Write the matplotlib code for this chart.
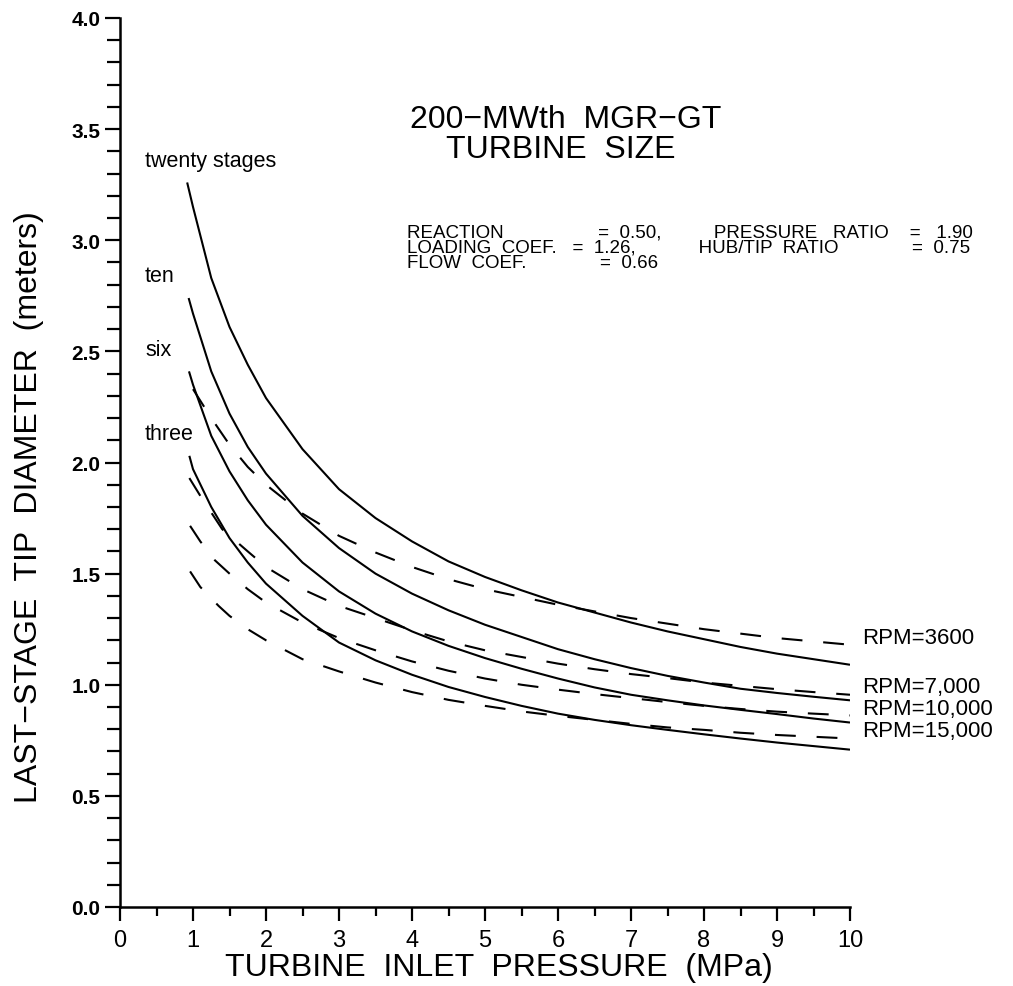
import matplotlib
matplotlib.use("Agg")
import matplotlib.pyplot as plt
from matplotlib.ticker import MultipleLocator

# ---- data -------------------------------------------------------------
# Solid curves: constant number of turbine stages
twenty_x = [0.92, 1.0, 1.25, 1.5, 1.75, 2.0, 2.5, 3.0, 3.5, 4.0, 4.5, 5.0,
            5.5, 6.0, 6.5, 7.0, 7.5, 8.0, 8.5, 9.0, 9.5, 10.0]
twenty_y = [3.26, 3.15, 2.83, 2.61, 2.44, 2.29, 2.06, 1.88, 1.75, 1.645, 1.555,
            1.485, 1.425, 1.37, 1.325, 1.28, 1.24, 1.205, 1.17, 1.14, 1.115, 1.09]

ten_x = [0.94, 1.0, 1.25, 1.5, 1.75, 2.0, 2.5, 3.0, 3.5, 4.0, 4.5, 5.0,
         5.5, 6.0, 6.5, 7.0, 7.5, 8.0, 8.5, 9.0, 9.5, 10.0]
ten_y = [2.74, 2.67, 2.41, 2.22, 2.07, 1.95, 1.76, 1.615, 1.50, 1.41, 1.335,
         1.27, 1.215, 1.16, 1.115, 1.075, 1.04, 1.01, 0.982, 0.963, 0.946, 0.93]

six_x = [0.945, 1.0, 1.25, 1.5, 1.75, 2.0, 2.5, 3.0, 3.5, 4.0, 4.5, 5.0,
         5.5, 6.0, 6.5, 7.0, 7.5, 8.0, 8.5, 9.0, 9.5, 10.0]
six_y = [2.41, 2.35, 2.12, 1.96, 1.83, 1.72, 1.55, 1.42, 1.32, 1.24, 1.175,
         1.12, 1.072, 1.028, 0.988, 0.955, 0.93, 0.907, 0.887, 0.868, 0.848, 0.83]

three_x = [0.95, 1.0, 1.25, 1.5, 1.75, 2.0, 2.5, 3.0, 3.5, 4.0, 4.5, 5.0,
           5.5, 6.0, 6.5, 7.0, 7.5, 8.0, 8.5, 9.0, 9.5, 10.0]
three_y = [2.03, 1.97, 1.80, 1.66, 1.55, 1.455, 1.31, 1.19, 1.11, 1.045, 0.99,
           0.945, 0.905, 0.87, 0.842, 0.818, 0.797, 0.777, 0.758, 0.74, 0.724, 0.708]

# Dashed curves: constant shaft speed
rpm3600_x = [1.0, 1.25, 1.5, 1.75, 2.0, 2.5, 3.0, 3.5, 4.0, 4.5, 5.0,
             5.5, 6.0, 6.5, 7.0, 7.5, 8.0, 8.5, 9.0, 9.5, 10.0]
rpm3600_y = [2.33, 2.20, 2.08, 1.98, 1.90, 1.77, 1.67, 1.595, 1.53, 1.475, 1.43,
             1.395, 1.36, 1.33, 1.30, 1.275, 1.25, 1.23, 1.21, 1.195, 1.18]

rpm7000_x = [0.95, 1.1, 1.25, 1.4, 1.75, 2.0, 2.5, 3.0, 3.5, 4.0, 4.5, 5.0,
             5.5, 6.0, 6.5, 7.0, 7.5, 8.0, 8.5, 9.0, 9.5, 10.0]
rpm7000_y = [1.93, 1.85, 1.775, 1.70, 1.60, 1.53, 1.43, 1.355, 1.30, 1.245, 1.195,
             1.155, 1.125, 1.095, 1.07, 1.048, 1.03, 1.01, 0.995, 0.98, 0.967, 0.955]

rpm10000_x = [0.96, 1.1, 1.3, 1.5, 1.75, 2.0, 2.5, 3.0, 3.5, 4.0, 4.5, 5.0,
              5.5, 6.0, 6.5, 7.0, 7.5, 8.0, 8.5, 9.0, 9.5, 10.0]
rpm10000_y = [1.715, 1.645, 1.56, 1.50, 1.43, 1.37, 1.28, 1.21, 1.155, 1.105, 1.063,
              1.028, 1.0, 0.978, 0.958, 0.94, 0.922, 0.905, 0.891, 0.879, 0.87, 0.862]

rpm15000_x = [0.96, 1.1, 1.35, 1.5, 1.75, 2.0, 2.5, 3.0, 3.5, 4.0, 4.5, 5.0,
              5.5, 6.0, 6.5, 7.0, 7.5, 8.0, 8.5, 9.0, 9.5, 10.0]
rpm15000_y = [1.51, 1.44, 1.355, 1.31, 1.25, 1.20, 1.115, 1.06, 1.01, 0.967, 0.932,
              0.905, 0.88, 0.86, 0.842, 0.824, 0.808, 0.797, 0.784, 0.774, 0.766, 0.758]

stage_labels = ["twenty stages", "ten", "six", "three"]
rpm_labels = ["RPM=3600", "RPM=7,000", "RPM=10,000", "RPM=15,000"]
x_ticks = list(range(0, 11))
y_ticks = [0.0, 0.5, 1.0, 1.5, 2.0, 2.5, 3.0, 3.5, 4.0]

# ---- figure -----------------------------------------------------------
W, H = 1013, 987
fig = plt.figure(figsize=(W / 100, H / 100), dpi=100)
fig.patch.set_facecolor("white")

def fx(px):
    return px / W

def fy(py):
    return 1 - py / H

FONT = ["Liberation Sans", "DejaVu Sans"]

ax = fig.add_axes([fx(120), fy(908), fx(850) - fx(120), fy(19) - fy(908)])
ax.set_xlim(0, 10)
ax.set_ylim(0, 4.0)
for side in ("top", "right"):
    ax.spines[side].set_visible(False)
for side in ("left", "bottom"):
    ax.spines[side].set_linewidth(1.8)

LW = 1.5
for xs, ys in [(twenty_x, twenty_y), (ten_x, ten_y), (six_x, six_y), (three_x, three_y)]:
    ax.plot(xs, ys, color="black", lw=LW, solid_capstyle="butt")
for xs, ys in [(rpm3600_x, rpm3600_y), (rpm7000_x, rpm7000_y),
               (rpm10000_x, rpm10000_y), (rpm15000_x, rpm15000_y)]:
    ax.plot(xs, ys, color="black", lw=LW, dashes=(10, 10), dash_capstyle="butt")

# ticks
ax.set_xticks(x_ticks)
ax.xaxis.set_minor_locator(MultipleLocator(0.5))
ax.set_yticks(y_ticks)
ax.yaxis.set_minor_locator(MultipleLocator(0.1))
ax.tick_params(axis="x", which="major", direction="out", length=10, width=1.6, pad=6)
ax.tick_params(axis="x", which="minor", direction="out", length=6.5, width=1.6)
ax.tick_params(axis="y", which="major", direction="out", length=11, width=1.6, pad=3)
ax.tick_params(axis="y", which="minor", direction="out", length=9.5, width=1.6)
ax.set_xticklabels([str(v) for v in x_ticks], fontfamily=FONT, fontsize=17)
ax.set_yticklabels([f"{v:.1f}" for v in y_ticks], fontfamily=FONT, fontsize=15,
                   fontweight="bold")

# axis titles
fig.text(fx(499), fy(968), "TURBINE  INLET  PRESSURE  (MPa)", fontfamily=FONT,
         fontsize=23, ha="center", va="center")
fig.text(fx(29), fy(507), "LAST\u2212STAGE  TIP  DIAMETER  (meters)", fontfamily=FONT,
         fontsize=23, ha="center", va="center", rotation=90)

# title block
fig.text(fx(566), fy(120), "200\u2212MWth  MGR\u2212GT", fontfamily=FONT, fontsize=23,
         ha="center", va="center")
fig.text(fx(561), fy(150), "TURBINE  SIZE", fontfamily=FONT, fontsize=23,
         ha="center", va="center")

# design parameters, laid out in columns with spaces
sp = " "
param_rows = [
    "REACTION" + sp * 18 + "=" + sp * 2 + "0.50," + sp * 10 + "PRESSURE   RATIO"
    + sp * 4 + "=" + sp * 3 + "1.90",
    "LOADING  COEF." + sp * 3 + "=" + sp * 2 + "1.26," + sp * 12 + "HUB/TIP  RATIO"
    + sp * 14 + "=" + sp * 2 + "0.75",
    "FLOW  COEF." + sp * 14 + "=" + sp * 2 + "0.66",
]
fig.text(fx(407), fy(268.5), "\n".join(param_rows), fontfamily=FONT, fontsize=13.5,
         ha="left", va="baseline", linespacing=0.9)

# curve labels
stage_pos = [(145, 162), (145, 277), (145, 351), (145, 435)]
for (px, py), s in zip(stage_pos, stage_labels):
    fig.text(fx(px), fy(py), s, fontfamily=FONT, fontsize=15.5, ha="left", va="center")

rpm_pos = [(862, 638), (862, 688), (862, 710), (862, 732)]
for (px, py), s in zip(rpm_pos, rpm_labels):
    fig.text(fx(px), fy(py), s, fontfamily=FONT, fontsize=16, ha="left", va="center")

fig.savefig("out.png", dpi=100, facecolor="white")
